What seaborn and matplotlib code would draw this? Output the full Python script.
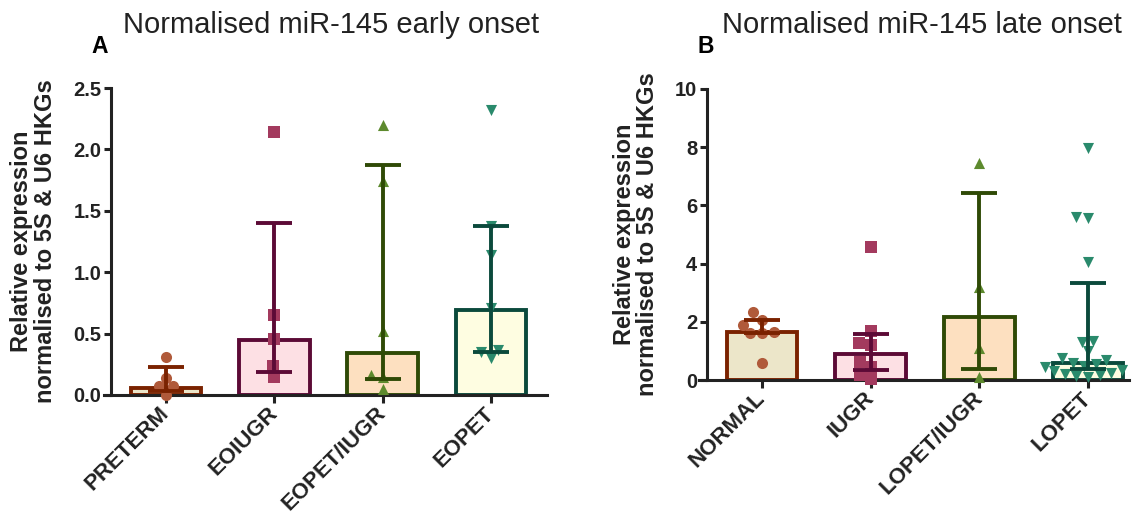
import numpy as np
import pandas as pd
import matplotlib
matplotlib.use("Agg")
import matplotlib.pyplot as plt
import seaborn as sns

# ---- data -------------------------------------------------------------
early_groups = ["PRETERM", "EOIUGR", "EOPET/IUGR", "EOPET"]
late_groups = ["NORMAL", "IUGR", "LOPET/IUGR", "LOPET"]

preterm = [0.31, 0.14, 0.07, 0.07, 0.0]
eoiugr = [2.14, 0.65, 0.46, 0.24, 0.15]
eopet_iugr = [2.20, 1.74, 0.52, 0.16, 0.15, 0.05]
eopet = [2.32, 1.38, 1.14, 0.71, 0.37, 0.35, 0.30]

normal = [2.32, 2.06, 1.89, 1.66, 1.60, 1.60, 0.57]
iugr = [4.58, 1.70, 1.28, 1.20, 0.63, 0.46, 0.17, 0.02]
lopet_iugr = [7.47, 3.21, 1.09, 0.11]
lopet = [7.96, 5.61, 5.56, 4.07, 1.35, 1.32, 1.00, 0.74, 0.69, 0.57,
         0.55, 0.48, 0.46, 0.36, 0.30, 0.23, 0.20, 0.17, 0.15, 0.12]

# median with interquartile range
early_median = [0.06, 0.45, 0.34, 0.69]
early_q1 = [0.03, 0.19, 0.13, 0.35]
early_q3 = [0.225, 1.40, 1.87, 1.38]
late_median = [1.64, 0.88, 2.15, 0.60]
late_q1 = [1.60, 0.33, 0.37, 0.37]
late_q3 = [2.07, 1.58, 6.44, 3.35]

early_yticks = [0.0, 0.5, 1.0, 1.5, 2.0, 2.5]
early_yticklabels = ["0.0", "0.5", "1.0", "1.5", "2.0", "2.5"]
late_yticks = [0, 2, 4, 6, 8, 10]
late_yticklabels = ["0", "2", "4", "6", "8", "10"]

# ---- styling ----------------------------------------------------------
edge_colors = ["#7a2200", "#5c0a36", "#2f4a06", "#0b4a3c"]
fill_colors = ["#ece6c9", "#fde0e4", "#fde0c0", "#fefde1"]
point_colors = ["#b05a3a", "#a33a5e", "#5d8a2e", "#2a8a6c"]
markers = ["o", "s", "^", "v"]
ink = "#222222"
mark_lw = 2.8

sns.set_theme(style="ticks")
plt.rcParams["font.family"] = ["Liberation Sans", "DejaVu Sans"]

fig = plt.figure(figsize=(11.32, 5.13), dpi=100)
W, H = 1132, 513


def px_axes(left, right, top, bottom):
    return fig.add_axes([left / W, (H - bottom) / H, (right - left) / W, (bottom - top) / H])


def draw_panel(ax, groups, samples, median, q1, q3, ymax, yticks, yticklabels,
               xlim, spine_frac):
    sns.barplot(x=groups, y=median, hue=groups, order=groups, hue_order=groups,
                palette=fill_colors, width=0.65, errorbar=None, legend=False,
                saturation=1, ax=ax, zorder=1)
    for patch, ec in zip(ax.patches, edge_colors):
        patch.set_edgecolor(ec)
        patch.set_linewidth(mark_lw)

    for i, (g, vals) in enumerate(zip(groups, samples)):
        df = pd.DataFrame({"group": [g] * len(vals), "value": vals})
        sns.swarmplot(data=df, x="group", y="value", order=groups,
                      color=point_colors[i], marker=markers[i], size=8,
                      linewidth=0, ax=ax, zorder=3)
    for coll in ax.collections:
        coll.set_clip_on(False)

    for i in range(len(groups)):
        lo = median[i] - q1[i]
        hi = q3[i] - median[i]
        ax.errorbar(i, median[i], yerr=[[lo], [hi]], color=edge_colors[i],
                    lw=mark_lw, capsize=13, capthick=mark_lw, zorder=4)

    ax.set_xlim(*xlim)
    ax.set_ylim(0, ymax)
    ax.set_yticks(yticks)
    ax.set_yticklabels(yticklabels)
    ax.set_xticks(range(len(groups)))
    ax.set_xticklabels(groups, rotation=45, ha="right", va="center",
                       rotation_mode="anchor")
    ax.set_xlabel("")
    ax.set_ylabel("Relative expression\nnormalised to 5S & U6 HKGs",
                  fontsize=17, fontweight="bold", color=ink, linespacing=1.05)

    sns.despine(ax=ax)
    ax.spines["left"].set_position(("axes", spine_frac))
    for s in ("left", "bottom"):
        ax.spines[s].set_linewidth(2.2)
        ax.spines[s].set_color(ink)
    ax.tick_params(axis="y", direction="out", length=5, width=2.2, color=ink,
                   labelsize=14.5, labelcolor=ink, pad=2)
    ax.tick_params(axis="x", direction="out", length=6, width=2.2, color=ink,
                   labelsize=16, labelcolor=ink, pad=5)
    for lbl in ax.get_yticklabels() + ax.get_xticklabels():
        lbl.set_fontweight("bold")
    ax.set_facecolor("white")


ax_a = px_axes(104, 547, 88, 395)
draw_panel(ax_a, early_groups, [preterm, eoiugr, eopet_iugr, eopet],
           early_median, early_q1, early_q3, 2.5, early_yticks, early_yticklabels,
           (-0.572, 3.517), 7 / 443)
ax_a.yaxis.set_label_coords(-0.106, 0.5)

ax_b = px_axes(699, 1129, 89, 380)
draw_panel(ax_b, late_groups, [normal, iugr, lopet_iugr, lopet],
           late_median, late_q1, late_q3, 10, late_yticks, late_yticklabels,
           (-0.58, 3.377), 8 / 430)
ax_b.yaxis.set_label_coords(-0.092, 0.5)

fig.text(331 / W, 1 - 25 / H, "Normalised miR-145 early onset", ha="center",
         va="center", fontsize=21, color=ink)
fig.text(922 / W, 1 - 25 / H, "Normalised miR-145 late onset", ha="center",
         va="center", fontsize=21, color=ink)
fig.text(100 / W, 1 - 47 / H, "A", ha="center", va="center", fontsize=16.5,
         fontweight="bold", color="black")
fig.text(706 / W, 1 - 47 / H, "B", ha="center", va="center", fontsize=16.5,
         fontweight="bold", color="black")

fig.savefig("out.png", dpi=100, facecolor="white")
